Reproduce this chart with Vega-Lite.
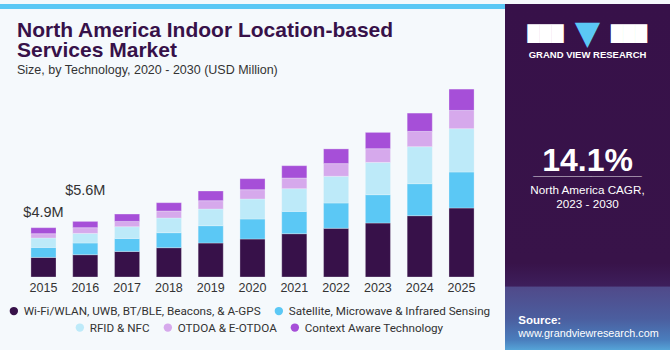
{
  "$schema": "https://vega.github.io/schema/vega-lite/v6.json",
  "padding": 0,
  "background": "#F5F9FC",
  "spacing": 0,
  "datasets": {
    "tech": [
      {"year": "2015", "tech": "Wi-Fi/WLAN, UWB, BT/BLE, Beacons, & A-GPS", "value": 1.96},
      {"year": "2015", "tech": "Satellite, Microwave & Infrared Sensing", "value": 1.00},
      {"year": "2015", "tech": "RFID & NFC", "value": 0.94},
      {"year": "2015", "tech": "OTDOA & E-OTDOA", "value": 0.43},
      {"year": "2015", "tech": "Context Aware Technology", "value": 0.60},
      {"year": "2016", "tech": "Wi-Fi/WLAN, UWB, BT/BLE, Beacons, & A-GPS", "value": 2.23},
      {"year": "2016", "tech": "Satellite, Microwave & Infrared Sensing", "value": 1.17},
      {"year": "2016", "tech": "RFID & NFC", "value": 0.96},
      {"year": "2016", "tech": "OTDOA & E-OTDOA", "value": 0.57},
      {"year": "2016", "tech": "Context Aware Technology", "value": 0.63},
      {"year": "2017", "tech": "Wi-Fi/WLAN, UWB, BT/BLE, Beacons, & A-GPS", "value": 2.56},
      {"year": "2017", "tech": "Satellite, Microwave & Infrared Sensing", "value": 1.30},
      {"year": "2017", "tech": "RFID & NFC", "value": 1.17},
      {"year": "2017", "tech": "OTDOA & E-OTDOA", "value": 0.53},
      {"year": "2017", "tech": "Context Aware Technology", "value": 0.73},
      {"year": "2018", "tech": "Wi-Fi/WLAN, UWB, BT/BLE, Beacons, & A-GPS", "value": 2.93},
      {"year": "2018", "tech": "Satellite, Microwave & Infrared Sensing", "value": 1.50},
      {"year": "2018", "tech": "RFID & NFC", "value": 1.47},
      {"year": "2018", "tech": "OTDOA & E-OTDOA", "value": 0.70},
      {"year": "2018", "tech": "Context Aware Technology", "value": 0.83},
      {"year": "2019", "tech": "Wi-Fi/WLAN, UWB, BT/BLE, Beacons, & A-GPS", "value": 3.40},
      {"year": "2019", "tech": "Satellite, Microwave & Infrared Sensing", "value": 1.73},
      {"year": "2019", "tech": "RFID & NFC", "value": 1.67},
      {"year": "2019", "tech": "OTDOA & E-OTDOA", "value": 0.83},
      {"year": "2019", "tech": "Context Aware Technology", "value": 0.97},
      {"year": "2020", "tech": "Wi-Fi/WLAN, UWB, BT/BLE, Beacons, & A-GPS", "value": 3.80},
      {"year": "2020", "tech": "Satellite, Microwave & Infrared Sensing", "value": 2.00},
      {"year": "2020", "tech": "RFID & NFC", "value": 2.00},
      {"year": "2020", "tech": "OTDOA & E-OTDOA", "value": 0.93},
      {"year": "2020", "tech": "Context Aware Technology", "value": 1.10},
      {"year": "2021", "tech": "Wi-Fi/WLAN, UWB, BT/BLE, Beacons, & A-GPS", "value": 4.33},
      {"year": "2021", "tech": "Satellite, Microwave & Infrared Sensing", "value": 2.23},
      {"year": "2021", "tech": "RFID & NFC", "value": 2.27},
      {"year": "2021", "tech": "OTDOA & E-OTDOA", "value": 1.07},
      {"year": "2021", "tech": "Context Aware Technology", "value": 1.23},
      {"year": "2022", "tech": "Wi-Fi/WLAN, UWB, BT/BLE, Beacons, & A-GPS", "value": 4.87},
      {"year": "2022", "tech": "Satellite, Microwave & Infrared Sensing", "value": 2.53},
      {"year": "2022", "tech": "RFID & NFC", "value": 2.67},
      {"year": "2022", "tech": "OTDOA & E-OTDOA", "value": 1.27},
      {"year": "2022", "tech": "Context Aware Technology", "value": 1.47},
      {"year": "2023", "tech": "Wi-Fi/WLAN, UWB, BT/BLE, Beacons, & A-GPS", "value": 5.40},
      {"year": "2023", "tech": "Satellite, Microwave & Infrared Sensing", "value": 2.83},
      {"year": "2023", "tech": "RFID & NFC", "value": 3.23},
      {"year": "2023", "tech": "OTDOA & E-OTDOA", "value": 1.37},
      {"year": "2023", "tech": "Context Aware Technology", "value": 1.63},
      {"year": "2024", "tech": "Wi-Fi/WLAN, UWB, BT/BLE, Beacons, & A-GPS", "value": 6.13},
      {"year": "2024", "tech": "Satellite, Microwave & Infrared Sensing", "value": 3.20},
      {"year": "2024", "tech": "RFID & NFC", "value": 3.70},
      {"year": "2024", "tech": "OTDOA & E-OTDOA", "value": 1.53},
      {"year": "2024", "tech": "Context Aware Technology", "value": 1.83},
      {"year": "2025", "tech": "Wi-Fi/WLAN, UWB, BT/BLE, Beacons, & A-GPS", "value": 6.90},
      {"year": "2025", "tech": "Satellite, Microwave & Infrared Sensing", "value": 3.60},
      {"year": "2025", "tech": "RFID & NFC", "value": 4.33},
      {"year": "2025", "tech": "OTDOA & E-OTDOA", "value": 1.83},
      {"year": "2025", "tech": "Context Aware Technology", "value": 2.13}
    ]
  },
  "hconcat": [
    {
      "spacing": 7,
      "vconcat": [
        {
          "width": 505,
          "height": 5,
          "view": {"fill": "#5BC8F5", "stroke": null},
          "data": {"values": [{}]},
          "mark": {"type": "text", "text": ""},
          "encoding": {}
        },
        {
          "width": 505,
          "height": 190,
          "title": {
            "text": ["North America Indoor Location-based", "Services Market"],
            "subtitle": "Size, by Technology, 2020 - 2030 (USD Million)",
            "anchor": "start",
            "frame": "group",
            "dx": 17,
            "font": "Liberation Sans",
            "fontSize": 21,
            "fontWeight": "bold",
            "color": "#371149",
            "lineHeight": 20,
            "subtitleFont": "Liberation Sans",
            "subtitleFontSize": 12.5,
            "subtitleColor": "#333333",
            "subtitlePadding": 3,
            "offset": 11
          },
          "data": {"name": "tech"},
          "layer": [
            {
              "transform": [
                {"stack": "value", "groupby": ["year"], "sort": [{"field": "tech", "order": "descending"}], "as": ["v0", "v1"]},
                {"filter": {"field": "tech", "oneOf": ["Wi-Fi/WLAN, UWB, BT/BLE, Beacons, & A-GPS", "Satellite, Microwave & Infrared Sensing"]}}
              ],
              "mark": {"type": "bar", "stroke": "#F5F9FC", "strokeWidth": 0.5, "strokeOpacity": 0.6},
              "encoding": {
                "x": {
                  "field": "year", "type": "ordinal",
                  "scale": {"paddingInner": 0.4, "paddingOuter": 0.74},
                  "axis": {"title": null, "domain": false, "ticks": false, "tickSize": 0, "labelPadding": 4, "labelAngle": 0, "labelFont": "Liberation Sans", "labelFontSize": 12.5, "labelColor": "#333333"}
                },
                "y": {"field": "v0", "type": "quantitative", "scale": {"domain": [0, 19], "nice": false}, "axis": null},
                "y2": {"field": "v1"},
                "color": {
                  "field": "tech", "type": "nominal",
                  "scale": {"domain": ["Wi-Fi/WLAN, UWB, BT/BLE, Beacons, & A-GPS", "Satellite, Microwave & Infrared Sensing"], "range": ["#371149", "#5BC8F5"]},
                  "legend": {"orient": "none", "legendX": 8, "legendY": 301, "direction": "horizontal", "title": null, "symbolType": "circle", "symbolSize": 70, "symbolOpacity": 1, "symbolStrokeWidth": 0, "labelFont": "Roboto", "labelFontSize": 11.7, "labelColor": "#333333", "labelLimit": 300, "columnPadding": 12, "labelOffset": 4}
                }
              }
            },
            {
              "transform": [
                {"stack": "value", "groupby": ["year"], "sort": [{"field": "tech", "order": "descending"}], "as": ["v0", "v1"]},
                {"filter": {"field": "tech", "oneOf": ["RFID & NFC", "OTDOA & E-OTDOA", "Context Aware Technology"]}}
              ],
              "mark": {"type": "bar", "stroke": "#F5F9FC", "strokeWidth": 0.5, "strokeOpacity": 0.6},
              "encoding": {
                "x": {"field": "year", "type": "ordinal"},
                "y": {"field": "v0", "type": "quantitative"},
                "y2": {"field": "v1"},
                "fill": {
                  "field": "tech", "type": "nominal",
                  "scale": {"domain": ["RFID & NFC", "OTDOA & E-OTDOA", "Context Aware Technology"], "range": ["#BDEAF9", "#D6A9EC", "#A64FD8"]},
                  "legend": {"orient": "none", "legendX": 74, "legendY": 317.5, "direction": "horizontal", "title": null, "symbolType": "circle", "symbolSize": 70, "symbolOpacity": 1, "symbolStrokeWidth": 0, "labelFont": "Roboto", "labelFontSize": 11.7, "labelColor": "#333333", "labelLimit": 300, "columnPadding": 12, "labelOffset": 4}
                }
              }
            },
            {
              "data": {"values": [{"year": "2015", "total": 4.93, "label": "$4.9M"}]},
              "mark": {"type": "text", "dy": -15, "font": "Liberation Sans", "fontSize": 14.5, "color": "#333333"},
              "encoding": {
                "x": {"field": "year", "type": "ordinal"},
                "y": {"field": "total", "type": "quantitative"},
                "text": {"field": "label"}
              }
            },
            {
              "data": {"values": [{"year": "2016", "total": 5.56, "label": "$5.6M"}]},
              "mark": {"type": "text", "dy": -30, "font": "Liberation Sans", "fontSize": 14.5, "color": "#333333"},
              "encoding": {
                "x": {"field": "year", "type": "ordinal"},
                "y": {"field": "total", "type": "quantitative"},
                "text": {"field": "label"}
              }
            }
          ]
        }
      ]
    },
    {
      "width": 165,
      "height": 350,
      "view": {
        "fill": {"gradient": "linear", "x1": 0, "y1": 0, "x2": 0, "y2": 1, "stops": [
          {"offset": 0, "color": "#371149"},
          {"offset": 0.74, "color": "#381349"},
          {"offset": 0.805, "color": "#3D1E5B"},
          {"offset": 0.81, "color": "#504A8A"},
          {"offset": 0.9, "color": "#4B5E9F"},
          {"offset": 0.96, "color": "#4A7EBD"},
          {"offset": 1, "color": "#5AB3E2"}
        ]},
        "stroke": null
      },
      "layer": [
        {
          "data": {"values": [{"t": "███"}]},
          "mark": {"type": "text", "font": "DejaVu Sans", "fontSize": 15.7, "color": "#FFFFFF", "baseline": "alphabetic", "dx": -42, "dy": -139.6},
          "encoding": {"text": {"field": "t"}}
        },
        {
          "data": {"values": [{"t": "▼"}]},
          "mark": {"type": "text", "font": "DejaVu Sans", "fontSize": 33, "color": "#5BC8F5", "baseline": "alphabetic", "dx": 0, "dy": -135},
          "encoding": {"text": {"field": "t"}}
        },
        {
          "data": {"values": [{"t": "███"}]},
          "mark": {"type": "text", "font": "DejaVu Sans", "fontSize": 15.7, "color": "#FFFFFF", "baseline": "alphabetic", "dx": 41.5, "dy": -139.6},
          "encoding": {"text": {"field": "t"}}
        },
        {
          "data": {"values": [{"t": "GRAND VIEW RESEARCH"}]},
          "mark": {"type": "text", "font": "Liberation Sans", "fontSize": 9.5, "fontWeight": "bold", "color": "#FFFFFF", "baseline": "alphabetic", "dy": -121.5},
          "encoding": {"text": {"field": "t"}}
        },
        {
          "data": {"values": [{"t": "14.1%"}]},
          "mark": {"type": "text", "font": "Liberation Sans", "fontSize": 32, "fontWeight": "bold", "color": "#FFFFFF", "baseline": "alphabetic", "dy": -8},
          "encoding": {"text": {"field": "t"}}
        },
        {
          "data": {"values": [{"t": "_______________"}]},
          "mark": {"type": "text", "font": "Liberation Sans", "fontSize": 13, "fontWeight": "bold", "color": "#FFFFFF", "opacity": 0.85, "baseline": "alphabetic", "dy": -4},
          "encoding": {"text": {"field": "t"}}
        },
        {
          "data": {"values": [{"t": "North America CAGR,"}]},
          "mark": {"type": "text", "font": "Liberation Sans", "fontSize": 11.7, "color": "#FFFFFF", "baseline": "alphabetic", "dy": 15},
          "encoding": {"text": {"field": "t"}}
        },
        {
          "data": {"values": [{"t": "2023 - 2030"}]},
          "mark": {"type": "text", "font": "Liberation Sans", "fontSize": 11.7, "color": "#FFFFFF", "baseline": "alphabetic", "dy": 29},
          "encoding": {"text": {"field": "t"}}
        },
        {
          "data": {"values": [{"t": "Source:"}]},
          "mark": {"type": "text", "font": "Liberation Sans", "fontSize": 11.5, "fontWeight": "bold", "color": "#FFFFFF", "baseline": "alphabetic", "align": "left", "dx": -69.2, "dy": 145},
          "encoding": {"text": {"field": "t"}}
        },
        {
          "data": {"values": [{"t": "www.grandviewresearch.com"}]},
          "mark": {"type": "text", "font": "Liberation Sans", "fontSize": 10.8, "color": "#FFFFFF", "baseline": "alphabetic", "align": "left", "dx": -69.2, "dy": 158},
          "encoding": {"text": {"field": "t"}}
        }
      ]
    }
  ],
  "config": {"view": {"stroke": null}, "font": "Liberation Sans"}
}
